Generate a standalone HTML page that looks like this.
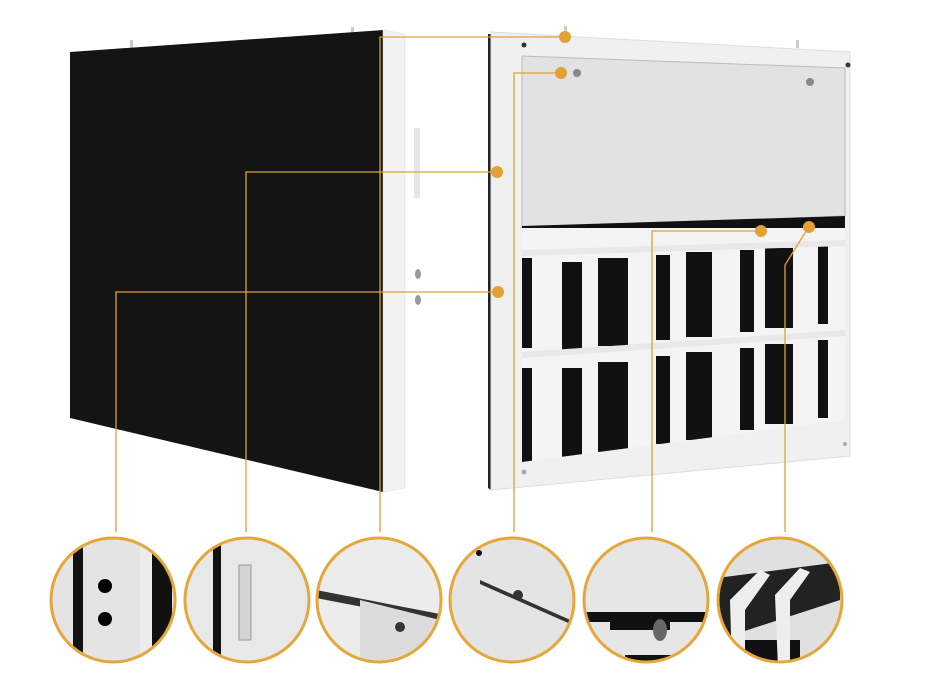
<!DOCTYPE html>
<html><head><meta charset="utf-8"><style>
html,body{margin:0;padding:0;background:#fff;}
svg{display:block}
</style></head><body>
<svg width="928" height="690" viewBox="0 0 928 690" xmlns="http://www.w3.org/2000/svg">
<defs>
<clipPath id="low"><polygon points="522,226 845,216 845,420 522,462"/></clipPath>
<clipPath id="c1"><ellipse cx="113" cy="600" rx="61" ry="61"/></clipPath>
<clipPath id="c2"><ellipse cx="247" cy="600" rx="61" ry="61"/></clipPath>
<clipPath id="c3"><ellipse cx="379" cy="600" rx="61" ry="61"/></clipPath>
<clipPath id="c4"><ellipse cx="512" cy="600" rx="61" ry="61"/></clipPath>
<clipPath id="c5"><ellipse cx="646" cy="600" rx="61" ry="61"/></clipPath>
<clipPath id="c6"><ellipse cx="780" cy="600" rx="61" ry="61"/></clipPath>
</defs>
<!-- left cabinet -->
<rect x="130" y="40" width="3" height="10" fill="#ccc"/>
<rect x="351" y="27" width="3" height="8" fill="#ccc"/>
<polygon points="70,52 383,30 383,492 70,418" fill="#141414"/>
<polygon points="383,30 405,34 405,488 383,492" fill="#f2f2f2" stroke="#ddd" stroke-width="0.5"/>
<rect x="414" y="128" width="6" height="70" fill="#e6e6e6"/>
<ellipse cx="418" cy="274" rx="3" ry="5" fill="#999"/>
<ellipse cx="418" cy="300" rx="3" ry="5" fill="#999"/>
<!-- right cabinet -->
<rect x="564" y="26" width="3" height="8" fill="#ccc"/>
<rect x="796" y="40" width="3" height="8" fill="#ccc"/>
<polygon points="488,34 491,34 491,490 488,488" fill="#222"/>
<polygon points="491,32 850,52 850,456 491,490" fill="#f0f0f0" stroke="#ddd" stroke-width="1"/>
<polygon points="522,56 845,68 845,216 522,228" fill="#e2e2e2" stroke="#bbb" stroke-width="1"/>
<circle cx="524" cy="45" r="2.5" fill="#333"/>
<circle cx="848" cy="65" r="2.5" fill="#333"/>
<circle cx="524" cy="472" r="2.5" fill="#aaa"/>
<circle cx="845" cy="444" r="2" fill="#aaa"/>
<circle cx="577" cy="73" r="4" fill="#888"/>
<circle cx="810" cy="82" r="4" fill="#888"/>
<g clip-path="url(#low)">
<rect x="520" y="210" width="330" height="260" fill="#f4f4f4"/>
<rect x="520" y="210" width="330" height="18" fill="#111"/>
<g fill="#111">
<rect x="522" y="258" width="10" height="90"/><rect x="522" y="368" width="10" height="95"/>
<rect x="562" y="262" width="20" height="88"/><rect x="562" y="368" width="20" height="90"/>
<rect x="598" y="258" width="30" height="88"/><rect x="598" y="362" width="30" height="90"/>
<rect x="656" y="255" width="14" height="85"/><rect x="656" y="356" width="14" height="88"/>
<rect x="686" y="252" width="26" height="85"/><rect x="686" y="352" width="26" height="88"/>
<rect x="740" y="250" width="14" height="82"/><rect x="740" y="348" width="14" height="82"/>
<rect x="765" y="248" width="28" height="80"/><rect x="765" y="344" width="28" height="80"/>
<rect x="818" y="246" width="10" height="78"/><rect x="818" y="340" width="10" height="78"/>
</g>
<polygon points="522,250 845,240 845,246 522,256" fill="#e8e8e8"/>
<polygon points="522,352 845,330 845,336 522,358" fill="#e8e8e8"/>
</g>
<!-- connectors -->
<g stroke="#e2a035" stroke-width="1.3" fill="none">
<polyline points="565,37 380,37 380,532"/>
<polyline points="496,172 246,172 246,532"/>
<polyline points="497,292 116,292 116,532"/>
<polyline points="561,73 514,73 514,532"/>
<polyline points="761,231 652,231 652,532"/>
<polyline points="808,228 785,265 785,532"/>
</g>
<g fill="#e2a035">
<circle cx="565" cy="37" r="6"/><circle cx="497" cy="172" r="6"/><circle cx="498" cy="292" r="6"/>
<circle cx="561" cy="73" r="6"/><circle cx="761" cy="231" r="6"/><circle cx="809" cy="227" r="6"/>
</g>
<!-- detail circles -->
<g clip-path="url(#c1)"><rect x="50" y="538" width="130" height="130" fill="#e4e4e4"/>
<rect x="73" y="538" width="10" height="130" fill="#111"/><rect x="152" y="538" width="20" height="130" fill="#111"/>
<rect x="140" y="538" width="12" height="130" fill="#ececec"/>
<ellipse cx="105" cy="586" rx="7" ry="7" fill="#000"/><ellipse cx="105" cy="619" rx="7" ry="7" fill="#000"/></g>
<g clip-path="url(#c2)"><rect x="184" y="538" width="130" height="130" fill="#e8e8e8"/>
<rect x="213" y="538" width="8" height="130" fill="#111"/>
<rect x="239" y="565" width="12" height="75" fill="#d4d4d4" stroke="#999"/></g>
<g clip-path="url(#c3)"><rect x="316" y="538" width="130" height="130" fill="#ececec"/>
<polygon points="316,590 316,598 440,622 440,614" fill="#333"/>
<polygon points="360,600 440,620 440,668 360,668" fill="#dcdcdc"/>
<circle cx="400" cy="627" r="5" fill="#333"/></g>
<g clip-path="url(#c4)"><rect x="449" y="538" width="130" height="130" fill="#e4e4e4"/>
<polygon points="480,580 575,622 575,626 480,584" fill="#333"/>
<circle cx="479" cy="553" r="3" fill="#111"/><circle cx="518" cy="595" r="5" fill="#333"/></g>
<g clip-path="url(#c5)"><rect x="583" y="538" width="130" height="130" fill="#e6e6e6"/>
<rect x="583" y="612" width="130" height="10" fill="#111"/><rect x="610" y="612" width="60" height="18" fill="#111"/>
<rect x="625" y="655" width="50" height="15" fill="#111"/>
<ellipse cx="660" cy="630" rx="7" ry="11" fill="#666"/></g>
<g clip-path="url(#c6)"><rect x="717" y="538" width="130" height="130" fill="#e0e0e0"/>
<polygon points="717,578 840,562 840,600 717,640" fill="#222"/>
<rect x="740" y="640" width="60" height="30" fill="#111"/>
<polygon points="730,600 760,570 770,575 745,610 745,668 732,668" fill="#eee"/>
<polygon points="775,595 800,568 810,572 790,600 790,668 778,668" fill="#eee"/></g>
<g fill="none" stroke="#e5a63a" stroke-width="3">
<ellipse cx="113" cy="600" rx="62" ry="62"/><ellipse cx="247" cy="600" rx="62" ry="62"/>
<ellipse cx="379" cy="600" rx="62" ry="62"/><ellipse cx="512" cy="600" rx="62" ry="62"/>
<ellipse cx="646" cy="600" rx="62" ry="62"/><ellipse cx="780" cy="600" rx="62" ry="62"/>
</g>
</svg>
</body></html>
